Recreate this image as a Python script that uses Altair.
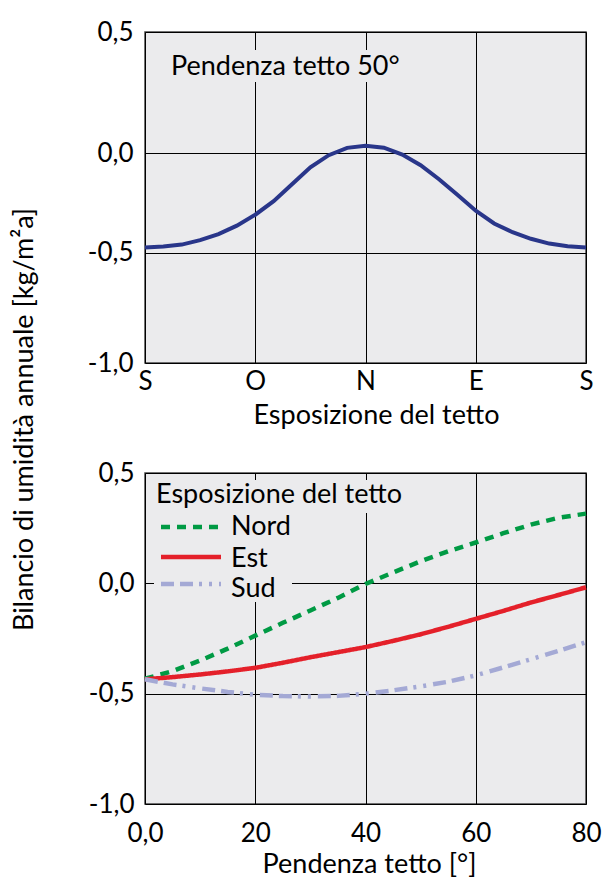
import json
import altair as alt
import pandas as pd

FONT = "Lato"
BG = "#ebebed"

# ---------------- data: top panel (roof slope 50°) ----------------
exposure_deg = [0, 15, 30, 45, 60, 75, 90, 105, 120, 135, 150, 165, 180,
                195, 210, 225, 240, 255, 270, 285, 300, 315, 330, 345, 360]
balance_50 = [-0.475, -0.470, -0.460, -0.438, -0.407, -0.365, -0.310, -0.242,
              -0.157, -0.072, -0.011, 0.026, 0.037, 0.027, -0.008, -0.061,
              -0.132, -0.210, -0.290, -0.354, -0.398, -0.431, -0.455, -0.468,
              -0.475]
exposure_ticks = [0, 90, 180, 270, 360]
exposure_labels = ["S", "O", "N", "E", "S"]

# ---------------- data: bottom panel (balance vs roof slope) ----------------
slope_deg = [0, 5, 10, 15, 20, 25, 30, 35, 40, 45, 50, 55, 60, 65, 70, 75, 80]
nord = [-0.432, -0.398, -0.350, -0.296, -0.237, -0.179, -0.123, -0.066, -0.003,
        0.049, 0.100, 0.145, 0.185, 0.227, 0.266, 0.297, 0.316]
est = [-0.435, -0.425, -0.413, -0.399, -0.383, -0.360, -0.335, -0.312, -0.289,
       -0.261, -0.231, -0.197, -0.161, -0.125, -0.087, -0.053, -0.018]
sud = [-0.435, -0.458, -0.476, -0.492, -0.505, -0.511, -0.513, -0.510, -0.500,
       -0.485, -0.467, -0.446, -0.417, -0.381, -0.344, -0.306, -0.267]
series_names = ["Nord", "Est", "Sud"]
series_colors = ["#009a44", "#e4202a", "#a4a9d5"]
series_dash = [[9, 7], [1, 0], [13, 6, 13, 6, 3, 7, 3, 7]]
slope_ticks = [0, 20, 40, 60, 80]
slope_labels = ["0,0", "20", "40", "60", "80"]
bal_ticks = [-1.0, -0.5, 0.0, 0.5]
bal_labels = ["-1,0", "-0,5", "0,0", "0,5"]
# the upper panel's value axis is drawn with its own spacing
top_bal_ticks = [-1.055, -0.5, 0.0, 0.608]
top_domain = [-1.055, 0.608]


def lab(vals, labels):
    return f"{json.dumps(labels)}[indexof({json.dumps(vals)}, datum.value)]"


W, H = 441, 331
one = pd.DataFrame({"k": [0]})
TXT = dict(font=FONT, fontSize=27, color="black")

# ---------------- top panel ----------------
top_df = pd.DataFrame({"exp": exposure_deg, "bal": balance_50})

top_line = alt.Chart(top_df).mark_line(color="#29368a", strokeWidth=4).encode(
    x=alt.X("exp:Q", scale=alt.Scale(domain=[0, 360], nice=False, zero=False),
            axis=alt.Axis(values=exposure_ticks,
                          labelExpr=lab(exposure_ticks, exposure_labels),
                          title="Esposizione del tetto", labelPadding=5,
                          titleX=231, titleY=60, titleBaseline="alphabetic")),
    y=alt.Y("bal:Q", scale=alt.Scale(domain=top_domain, nice=False, zero=False),
            axis=alt.Axis(values=top_bal_ticks,
                          labelExpr=lab(top_bal_ticks, bal_labels),
                          title="Bilancio di umidità annuale [kg/m²a]",
                          labelPadding=12, titleAngle=270,
                          titleX=-113, titleY=387, titleBaseline="alphabetic",
                          titleAlign="center")),
)
top_mask = alt.Chart(one).mark_rect(fill=BG).encode(
    x=alt.value(19), x2=alt.value(254), y=alt.value(18), y2=alt.value(50))
top_text = alt.Chart(one).mark_text(align="left", baseline="alphabetic",
                                    text="Pendenza tetto 50°", **TXT).encode(
    x=alt.value(26), y=alt.value(43))

top = alt.layer(top_mask, top_text, top_line).properties(width=W, height=H)

# ---------------- bottom panel ----------------
rows = []
for name, vals in zip(series_names, [nord, est, sud]):
    for s, v in zip(slope_deg, vals):
        rows.append({"slope": s, "bal": v, "series": name})
bot_df = pd.DataFrame(rows)

bot_lines = alt.Chart(bot_df).mark_line(strokeWidth=4.5).encode(
    x=alt.X("slope:Q", scale=alt.Scale(domain=[0, 80], nice=False, zero=False),
            axis=alt.Axis(values=slope_ticks,
                          labelExpr=lab(slope_ticks, slope_labels),
                          title="Pendenza tetto [°]", labelPadding=16,
                          titleX=224, titleY=68, titleBaseline="alphabetic")),
    y=alt.Y("bal:Q", scale=alt.Scale(domain=[-1.0, 0.5], nice=False, zero=False),
            axis=alt.Axis(values=bal_ticks, labelExpr=lab(bal_ticks, bal_labels),
                          title=None, labelPadding=11)),
    color=alt.Color("series:N", scale=alt.Scale(domain=series_names, range=series_colors),
                    legend=None),
    strokeDash=alt.StrokeDash("series:N", scale=alt.Scale(domain=series_names, range=series_dash),
                              legend=None),
    order=alt.Order("slope:Q"),
)

leg_mask1 = alt.Chart(one).mark_rect(fill=BG).encode(
    x=alt.value(9), x2=alt.value(147), y=alt.value(7), y2=alt.value(129))
leg_mask2 = alt.Chart(one).mark_rect(fill=BG).encode(
    x=alt.value(9), x2=alt.value(256), y=alt.value(7), y2=alt.value(40))
leg_title = alt.Chart(one).mark_text(align="left", baseline="alphabetic",
                                     text="Esposizione del tetto", **TXT).encode(
    x=alt.value(11), y=alt.value(30))

leg_layers = []
sym_y = [54, 84, 111]
lab_y = [62, 94, 124]
for i, name in enumerate(series_names):
    leg_layers.append(alt.Chart(one).mark_rule(
        color=series_colors[i], strokeDash=series_dash[i], strokeWidth=4.5).encode(
        x=alt.value(16), x2=alt.value(76), y=alt.value(sym_y[i])))
    leg_layers.append(alt.Chart(one).mark_text(
        align="left", baseline="alphabetic", text=name, **TXT).encode(
        x=alt.value(86), y=alt.value(lab_y[i])))

bottom = alt.layer(leg_mask1, leg_mask2, bot_lines, leg_title, *leg_layers).properties(
    width=W, height=H)

chart = alt.vconcat(top, bottom, spacing=110, bounds="flush").properties(
    padding={"left": 9, "top": 18, "right": 0, "bottom": 0},
    background="white",
).configure_view(
    fill=BG, stroke="#444444", strokeWidth=1.5
).configure_axis(
    domain=False, ticks=False, tickSize=0, grid=True, gridColor="#000000",
    gridWidth=1, gridOpacity=1, labelFont=FONT, labelFontSize=26,
    labelColor="black", labelFlush=False, labelOverlap=False,
    titleFont=FONT, titleFontSize=27, titleColor="black", titleFontWeight="normal",
)

chart.save("out.html", embed_options={"renderer": "svg", "actions": False})
